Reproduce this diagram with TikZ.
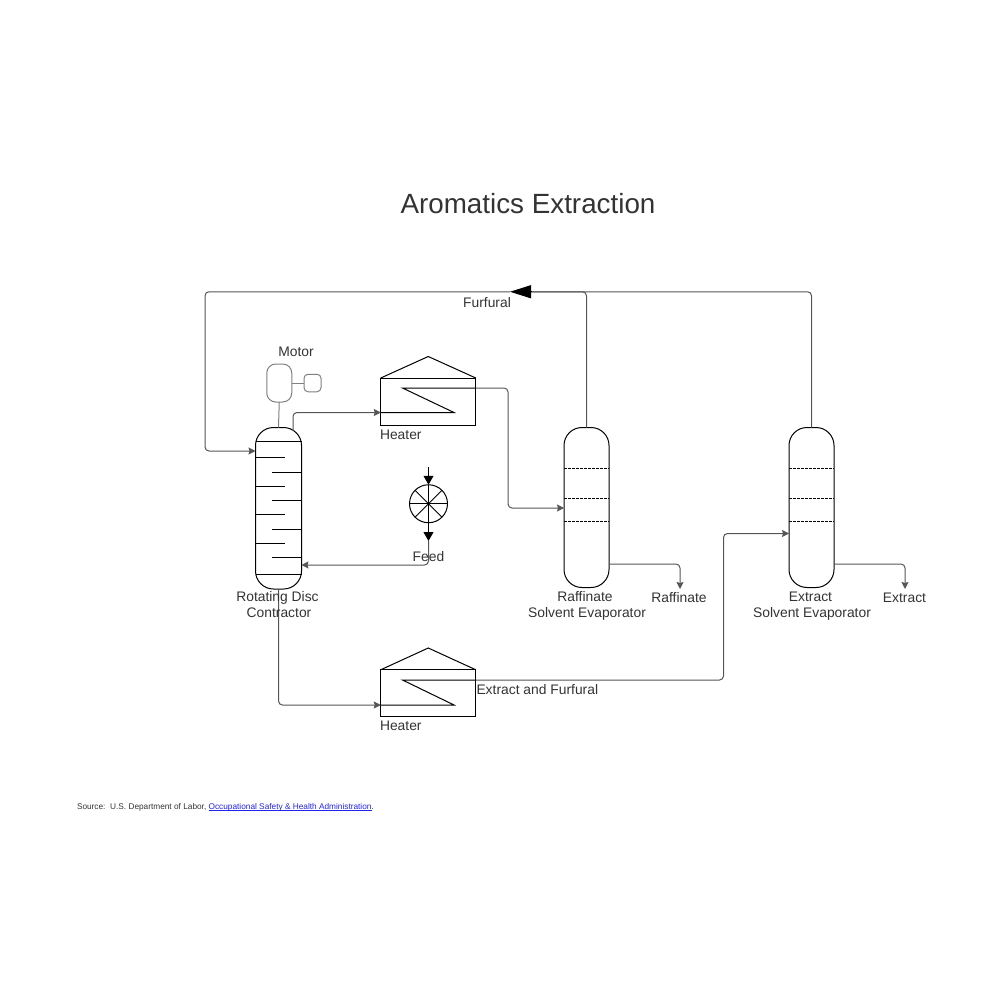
\documentclass[tikz,border=0pt]{standalone}
\usepackage{fontspec}
\setmainfont{Liberation Sans}
\usetikzlibrary{arrows.meta, positioning, shapes.geometric}
\definecolor{tinta}{HTML}{333333}
\definecolor{tubo}{HTML}{555555}
\definecolor{motorgris}{HTML}{808080}
\definecolor{enlace}{HTML}{2222EE}
\newsavebox\linkbox
\newcommand{\linkline}[1]{\sbox\linkbox{#1}\rlap{\rule[-1.2pt]{\wd\linkbox}{0.5pt}}\usebox\linkbox}
\begin{document}
\begin{tikzpicture}[
      x=1pt, y=-1pt, line width=1pt,
      label/.style={text=tinta, font=\fontsize{13.85}{16}\selectfont, inner sep=0pt, align=center},
      column/.style={draw, rounded corners=18pt, inner sep=0pt, outer sep=0pt,
                     minimum width=45pt, minimum height=160pt},
      heater/.style={draw, inner sep=0pt, outer sep=0pt,
                     minimum width=95pt, minimum height=47pt},
      motor/.style={draw=motorgris, inner sep=0pt, outer sep=0pt},
      pipe/.style={draw=tubo, rounded corners=4pt, -{Stealth[length=7pt, width=7pt, inset=1pt]}},
      plainpipe/.style={draw=tubo, rounded corners=4pt},
      bigarrow/.style={-{Triangle[length=9pt, width=10pt]}} ]

    \useasboundingbox (0,0) rectangle (1000,1000);

    \node[text=tinta, font=\fontsize{27.8}{32}\selectfont, inner sep=0pt] (title) at (528,204) {Aromatics Extraction};

    \node[column, minimum width=46pt, minimum height=161.5pt] (contact) at (278.5,508.25) {};
    \node[column] (raffin) at (586.5,507.5) {};
    \node[column] (extr) at (811.5,507.5) {};

    \node[heater] (heatA) at (428.25,401.5) {};
    \node[heater] (heatB) at (428.25,693.25) {};
    \coordinate (roofA) at (428.25,356.5);
    \coordinate (roofB) at (428.25,648);

    \node[motor, rounded corners=9pt, minimum width=25pt, minimum height=38pt] (motorA) at (279.25,383) {};
    \node[motor, rounded corners=4pt, minimum width=17pt, minimum height=17.5pt] (motorB) at (312.5,383) {};

    \node[draw, circle, inner sep=0pt, outer sep=0pt, minimum size=38pt] (feedpump) at (428.5,503.75) {};

    \coordinate (feedtop) at (428.5,467);
    \coordinate (feedtip) at (428.5,541);
    \coordinate (furtip) at (510,291.75);
    \coordinate (furbase) at (531,291.75);
    \coordinate (contactin) at (255.5,451);
    \coordinate (contactfeed) at (301.5,565);
    \coordinate (contactout) at (293,431);
    \coordinate (heatAin) at (380.75,412.5);
    \coordinate (heatAout) at (475.75,388);
    \coordinate (heatBin) at (380.75,705);
    \coordinate (heatBout) at (475.75,680);
    \coordinate (raffinin) at (564,508);
    \coordinate (raffinout) at (609,564);
    \coordinate (raffinend) at (680,589);
    \coordinate (extrin) at (789,533.5);
    \coordinate (extrout) at (834,564);
    \coordinate (extrend) at (905,589);

    \draw (heatA.north west) -- (roofA) -- (heatA.north east);
    \draw (heatB.north west) -- (roofB) -- (heatB.north east);
    \draw (heatAin) -- (454,412.5) -- (402.5,388) -- (heatAout);
    \draw (heatBin) -- (454,705) -- (402.5,680) -- (heatBout);

    \draw (255.5,441) -- (301.5,441);   \draw (255.5,574) -- (301.5,574);
    \draw (255.5,457) -- (285,457);     \draw (272,472) -- (301.5,472);
    \draw (255.5,486) -- (285,486);     \draw (272,500) -- (301.5,500);
    \draw (255.5,514) -- (285,514);     \draw (272,529) -- (301.5,529);
    \draw (255.5,543) -- (285,543);     \draw (272,557) -- (301.5,557);

    \draw[dashed, dash pattern=on 3pt off 1pt] (564,468) -- (609,468);
    \draw[dashed, dash pattern=on 3pt off 1pt] (564,498) -- (609,498);
    \draw[dashed, dash pattern=on 3pt off 1pt] (564,521) -- (609,521);
    \draw[dashed, dash pattern=on 3pt off 1pt] (789,468) -- (834,468);
    \draw[dashed, dash pattern=on 3pt off 1pt] (789,498) -- (834,498);
    \draw[dashed, dash pattern=on 3pt off 1pt] (789,521) -- (834,521);

    \draw (feedpump.north) -- (feedpump.south);
    \draw (feedpump.west) -- (feedpump.east);
    \draw (feedpump.north west) -- (feedpump.south east);
    \draw (feedpump.north east) -- (feedpump.south west);
    \draw[bigarrow] (feedtop) -- (feedpump.north);
    \draw[bigarrow] (feedpump.south) -- (feedtip);

    \draw[motor] (motorA.east) -- (motorB.west);
    \draw[motor] (motorA.south) -- (contact.north);

    \draw[plainpipe] (extr.north) |- (furbase);
    \draw[plainpipe] (raffin.north) |- (furbase);
    \draw[-{Triangle[length=21pt, width=13pt]}] (furbase) -- (furtip);
    \draw[pipe] (furtip) -- (205,291.75) |- (contactin);

    \draw[pipe] (contactout) |- (heatAin);
    \draw[pipe] (heatAout) -- (508,388) |- (raffinin);
    \draw[pipe] (feedtip) |- (contactfeed);
    \draw[pipe] (contact.south) |- (heatBin);
    \draw[pipe] (heatBout) -- (723.5,680) |- (extrin);
    \draw[pipe] (raffinout) -| (raffinend);
    \draw[pipe] (extrout) -| (extrend);

    \node[label] (motorlab) at (296,351.5) {Motor};
    \node[label] (furlab) at (487,303) {Furfural};
    \node[label, anchor=west] (heatAlab) at (379.5,434.5) {Heater};
    \node[label, anchor=west] (heatBlab) at (379.5,725.5) {Heater};
    \node[label] (feedlab) at (428.5,557) {Feed};
    \node[label] (contactlab) at (279,605) {Rotating Disc\hspace*{3pt}\\ Contractor};
    \node[label] (raffinlab) at (587,606) {Raffinate\hspace*{4pt}\\ Solvent Evaporator};
    \node[label] (extrlab) at (812,606) {Extract\hspace*{3pt}\\ Solvent Evaporator};
    \node[label] (raffinendlab) at (679,598) {Raffinate};
    \node[label] (extrendlab) at (904.5,597.5) {Extract};
    \node[label, anchor=west] (mixlab) at (476,690) {Extract and Furfural};

    \node[anchor=base west, inner sep=0pt, text=tinta, font=\fontsize{8.28}{10}\selectfont] (source) at (76.5,809)
      {Source:\ \ U.S. Department of Labor, \textcolor{enlace}{\linkline{Occupational Safety \& Health Administration}}.};
  \end{tikzpicture}
\end{document}
